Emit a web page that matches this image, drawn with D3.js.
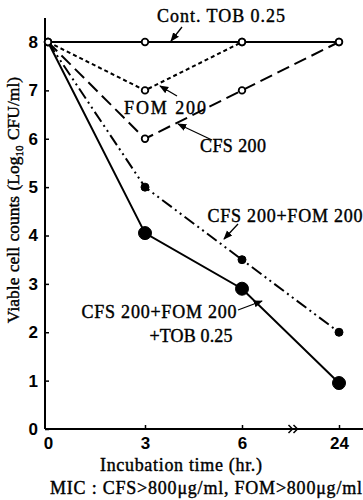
<!DOCTYPE html>
<html>
<head>
<meta charset="utf-8">
<script src="https://cdn.jsdelivr.net/npm/d3@7"></script>
<style>
  body { margin: 0; background: #fff; }
  text { font-family: "Liberation Serif", "DejaVu Serif", serif; fill: #000; stroke: #000; stroke-width: 0.4; }
  .tick text { font-family: "Liberation Sans", sans-serif; font-weight: bold; stroke: none; }
</style>
</head>
<body>
<div id="chart"></div>
<script>
// time points (hr.), axis is broken between 6 and 24
var times = ["0", "3", "6", "24"];
var yTicks = [0, 1, 2, 3, 4, 5, 6, 7, 8];

// log10 CFU/ml
var contTob = [8, 8, 8, 8];
var fom200 = [8, 7, 8];
var cfs200 = [8, 6, 7, 8];
var cfsFom = [8, 5, 3.5, 2];
var cfsFomTob = [8, 4.05, 2.9, 0.95];

var width = 363, height = 500;
var margin = {left: 45, top: 18, bottom: 71};

var svg = d3.select("#chart").append("svg")
    .attr("width", width)
    .attr("height", height);

var defs = svg.append("defs");
defs.append("marker")
    .attr("id", "arrow")
    .attr("viewBox", "0 0 10 10")
    .attr("refX", 9).attr("refY", 5)
    .attr("markerWidth", 7).attr("markerHeight", 7)
    .attr("orient", "auto")
  .append("path")
    .attr("d", "M0,1 L10,5 L0,9 z")
    .attr("fill", "#000");

var x = d3.scalePoint().domain(times).range([48, 339]);
var y = d3.scaleLinear().domain([0, 8]).range([height - margin.bottom, 42]);

// axes
var yAxis = svg.append("g")
    .attr("transform", "translate(" + margin.left + ",0)")
    .call(d3.axisLeft(y).tickValues(yTicks).tickSize(-4).tickPadding(7).tickFormat(d3.format("d")));
yAxis.select(".domain").remove();
yAxis.selectAll("text").attr("font-size", 17);
yAxis.selectAll("line").attr("stroke-width", 1.5);

svg.append("line")
    .attr("x1", margin.left).attr("x2", margin.left)
    .attr("y1", margin.top).attr("y2", y(0))
    .attr("stroke", "#000").attr("stroke-width", 2);

var xAxis = svg.append("g")
    .attr("transform", "translate(0," + y(0) + ")")
    .call(d3.axisBottom(x).tickSize(-4).tickPadding(8));
xAxis.select(".domain").remove();
xAxis.selectAll("text").attr("font-size", 17);
xAxis.selectAll("line").attr("stroke-width", 1.5);
xAxis.selectAll(".tick").filter(function(d){ return d == "0"; }).select("line").remove();

svg.append("line")
    .attr("x1", margin.left).attr("x2", width)
    .attr("y1", y(0)).attr("y2", y(0))
    .attr("stroke", "#000").attr("stroke-width", 2);

// axis break ">>"
var bx = (x("6") + x("24")) / 2 + 1;
[0, 5].forEach(function(o){
  svg.append("path")
      .attr("d", "M" + (bx + o - 3) + "," + (y(0) - 4) + " L" + (bx + o + 1) + "," + y(0) + " L" + (bx + o - 3) + "," + (y(0) + 4))
      .attr("fill", "none").attr("stroke", "#000").attr("stroke-width", 1.5);
});

var line = d3.line()
    .x(function(d, i){ return x(times[i]); })
    .y(function(d){ return y(d); });

var series = [
  {values: contTob, dash: null, marker: "open"},
  {values: fom200, dash: "4,3", marker: "open"},
  {values: cfs200, dash: "13,6", marker: "open"},
  {values: cfsFom, dash: "12,4,2,4,2,4", marker: "small"},
  {values: cfsFomTob, dash: null, marker: "big"}
];

series.forEach(function(s){
  svg.append("path")
      .datum(s.values)
      .attr("d", line)
      .attr("fill", "none")
      .attr("stroke", "#000")
      .attr("stroke-width", 2)
      .attr("stroke-dasharray", s.dash);
});

series.forEach(function(s){
  var pts = s.values.map(function(v, i){ return {t: times[i], v: v}; })
      .filter(function(p, i){ return i > 0 || s.marker == "open"; });
  svg.selectAll(null)
      .data(pts)
      .enter().append("circle")
      .attr("cx", function(d){ return x(d.t); })
      .attr("cy", function(d){ return y(d.v); })
      .attr("r", s.marker == "big" ? 6.5 : (s.marker == "small" ? 4 : 3.3))
      .attr("fill", s.marker == "open" ? "#fff" : "#000")
      .attr("stroke", "#000")
      .attr("stroke-width", s.marker == "open" ? 1.8 : 1);
});

// labels with leader arrows
var labels = [
  {text: ["Cont. TOB 0.25"], tx: 221, ty: 22, w: 128, from: [182, 27], to: [171, 41]},
  {text: ["FOM 200"], tx: 165, ty: 114, w: 82, from: [177, 96], to: [160, 86]},
  {text: ["CFS 200"], tx: 233, ty: 152, w: 66, from: [212, 140], to: [178, 124]},
  {text: ["CFS 200+FOM 200"], tx: 285, ty: 222, w: 155, from: [238, 224], to: [224, 239]},
  {text: ["CFS 200+FOM 200", "+TOB 0.25"], tx: 159, ty: 318, tx2: 191, w: 155, w2: 83, from: [238, 310], to: [262, 301]}
];

labels.forEach(function(l){
  l.text.forEach(function(t, k){
    svg.append("text")
        .attr("x", k == 0 ? l.tx : l.tx2)
        .attr("y", l.ty + k * 24)
        .attr("text-anchor", "middle")
        .attr("font-size", 18)
        .attr("textLength", k == 0 ? l.w : l.w2)
        .attr("lengthAdjust", "spacing")
        .text(t);
  });
  svg.append("line")
      .attr("x1", l.from[0]).attr("y1", l.from[1])
      .attr("x2", l.to[0]).attr("y2", l.to[1])
      .attr("stroke", "#000").attr("stroke-width", 1.3)
      .attr("marker-end", "url(#arrow)");
});

// axis titles
svg.append("text")
    .attr("transform", "translate(19,200) rotate(-90)")
    .attr("text-anchor", "middle")
    .attr("font-size", 17.5)
    .attr("word-spacing", 1)
    .html('Viable cell counts (Log<tspan font-size="11" dy="4">10</tspan><tspan dy="-4"> CFU/ml)</tspan>');

svg.append("text")
    .attr("x", 181).attr("y", 471)
    .attr("text-anchor", "middle")
    .attr("font-size", 18)
    .attr("textLength", 162)
    .attr("lengthAdjust", "spacing")
    .text("Incubation time (hr.)");

svg.append("text")
    .attr("x", 206).attr("y", 494)
    .attr("text-anchor", "middle")
    .attr("font-size", 18)
    .attr("textLength", 312)
    .attr("lengthAdjust", "spacing")
    .text("MIC : CFS>800μg/ml, FOM>800μg/ml");
</script>
</body>
</html>
